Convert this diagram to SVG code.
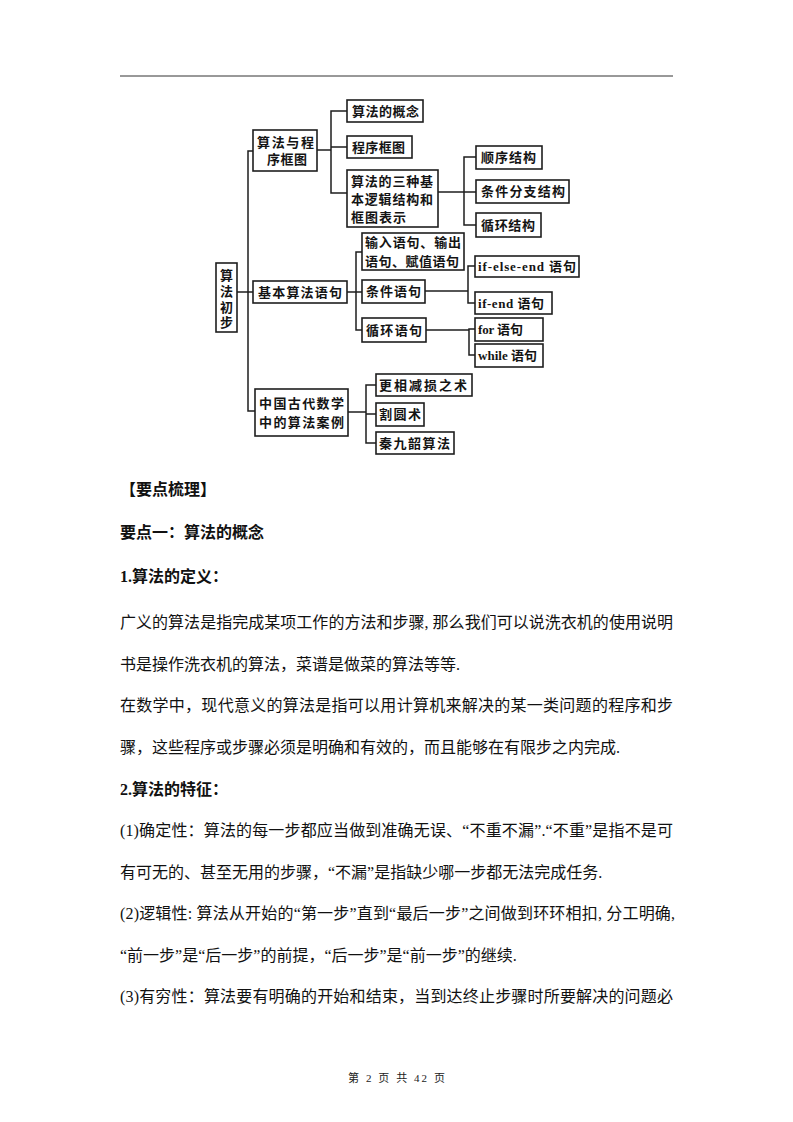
<svg xmlns="http://www.w3.org/2000/svg" width="793" height="1122" viewBox="0 0 793 1122">
<style>
.box{fill:#fff;stroke:#1e1e1e;stroke-width:1.6}
.ln{fill:none;stroke:#1e1e1e;stroke-width:1.5}
.lbl{font-family:"Liberation Serif","Noto Sans CJK SC",serif;font-size:13px;font-weight:bold;fill:#141414;dominant-baseline:central}
.body{font-family:"Liberation Serif","Noto Sans CJK SC",serif;font-size:16px;fill:#111}
.hd{font-family:"Liberation Serif","Noto Sans CJK SC",serif;font-size:16px;font-weight:bold;fill:#111}
.ft{font-family:"Liberation Serif","Noto Sans CJK SC",serif;font-size:11px;fill:#222}
</style>
<rect width="793" height="1122" fill="#fff"/>
<line x1="120" y1="76" x2="673" y2="76" stroke="#333" stroke-width="1"/>

<g id="connectors">
<path class="ln" d="M237 292 H253"/>
<path class="ln" d="M253 151 H248 V411 H255"/>
<path class="ln" d="M317 150 H331"/>
<path class="ln" d="M347 111 H331 V193 H347 M331 147 H347"/>
<path class="ln" d="M438 192 H464"/>
<path class="ln" d="M476 157 H464 V225 H476 M464 192 H476"/>
<path class="ln" d="M347 292 H362"/>
<path class="ln" d="M362 252 H356 V330 H362"/>
<path class="ln" d="M425 291 H468"/>
<path class="ln" d="M475 266 H468 V303 H475"/>
<path class="ln" d="M426 330 H469"/>
<path class="ln" d="M475 329 H469 V355 H475"/>
<path class="ln" d="M348 412 H366"/>
<path class="ln" d="M376 385 H366 V443 H376 M366 414 H376"/>
</g>

<g id="root">
<rect class="box" x="216" y="263" width="21" height="69"/>
<text class="lbl" x="226.5" y="275" text-anchor="middle">算</text>
<text class="lbl" x="226.5" y="291" text-anchor="middle">法</text>
<text class="lbl" x="226.5" y="307" text-anchor="middle">初</text>
<text class="lbl" x="226.5" y="322" text-anchor="middle">步</text>
</g>
<g id="n-suanfa-chengxu">
<rect class="box" x="253" y="130" width="64" height="41"/>
<text class="lbl" x="257" y="142" textLength="57" lengthAdjust="spacing">算法与程</text>
<text class="lbl" x="267" y="159" textLength="40" lengthAdjust="spacing">序框图</text>
</g>
<g id="n-gainian">
<rect class="box" x="347" y="100" width="76" height="22"/>
<text class="lbl" x="352" y="111" textLength="67" lengthAdjust="spacing">算法的概念</text>
</g>
<g id="n-kuangtu">
<rect class="box" x="347" y="136" width="65" height="22"/>
<text class="lbl" x="352" y="147" textLength="53" lengthAdjust="spacing">程序框图</text>
</g>
<g id="n-sanzhong">
<rect class="box" x="347" y="170" width="91" height="57"/>
<text class="lbl" x="351" y="181" textLength="82" lengthAdjust="spacing">算法的三种基</text>
<text class="lbl" x="351" y="199" textLength="82" lengthAdjust="spacing">本逻辑结构和</text>
<text class="lbl" x="351" y="217" textLength="55" lengthAdjust="spacing">框图表示</text>
</g>
<g id="n-shunxu">
<rect class="box" x="476" y="146" width="66" height="23"/>
<text class="lbl" x="481" y="157" textLength="55" lengthAdjust="spacing">顺序结构</text>
</g>
<g id="n-tiaojianfenzhi">
<rect class="box" x="476" y="180" width="93" height="23"/>
<text class="lbl" x="481" y="191" textLength="84" lengthAdjust="spacing">条件分支结构</text>
</g>
<g id="n-xunhuanjiegou">
<rect class="box" x="476" y="213" width="65" height="24"/>
<text class="lbl" x="481" y="225" textLength="54" lengthAdjust="spacing">循环结构</text>
</g>
<g id="n-jibenyuju">
<rect class="box" x="253" y="281" width="94" height="22"/>
<text class="lbl" x="258" y="292" textLength="84" lengthAdjust="spacing">基本算法语句</text>
</g>
<g id="n-shuru">
<rect class="box" x="362" y="233" width="102" height="37"/>
<text class="lbl" x="365" y="242" textLength="96" lengthAdjust="spacing">输入语句、输出</text>
<text class="lbl" x="365" y="261" textLength="94" lengthAdjust="spacing">语句、赋值语句</text>
</g>
<g id="n-tiaojianyuju">
<rect class="box" x="362" y="280" width="63" height="23"/>
<text class="lbl" x="366" y="291" textLength="55" lengthAdjust="spacing">条件语句</text>
</g>
<g id="n-xunhuanyuju">
<rect class="box" x="362" y="318" width="64" height="24"/>
<text class="lbl" x="366" y="330" textLength="56" lengthAdjust="spacing">循环语句</text>
</g>
<g id="n-ifelseend">
<rect class="box" x="475" y="256" width="104" height="21"/>
<text class="lbl" x="478" y="266" textLength="98" lengthAdjust="spacing">if-else-end 语句</text>
</g>
<g id="n-ifend">
<rect class="box" x="475" y="292" width="77" height="22"/>
<text class="lbl" x="478" y="303" textLength="66" lengthAdjust="spacing">if-end 语句</text>
</g>
<g id="n-for">
<rect class="box" x="475" y="318" width="68" height="23"/>
<text class="lbl" x="478" y="329" textLength="45" lengthAdjust="spacing">for 语句</text>
</g>
<g id="n-while">
<rect class="box" x="475" y="344" width="68" height="23"/>
<text class="lbl" x="478" y="355" textLength="59" lengthAdjust="spacing">while 语句</text>
</g>
<g id="n-zhongguo">
<rect class="box" x="255" y="389" width="93" height="47"/>
<text class="lbl" x="259" y="403" textLength="85" lengthAdjust="spacing">中国古代数学</text>
<text class="lbl" x="259" y="422" textLength="85" lengthAdjust="spacing">中的算法案例</text>
</g>
<g id="n-gengxiang">
<rect class="box" x="376" y="374" width="96" height="22"/>
<text class="lbl" x="379" y="385" textLength="88" lengthAdjust="spacing">更相减损之术</text>
</g>
<g id="n-geyuan">
<rect class="box" x="376" y="403" width="48" height="23"/>
<text class="lbl" x="379" y="414" textLength="42" lengthAdjust="spacing">割圆术</text>
</g>
<g id="n-qinjiushao">
<rect class="box" x="376" y="432" width="78" height="22"/>
<text class="lbl" x="379" y="443" textLength="71" lengthAdjust="spacing">秦九韶算法</text>
</g>

<g id="body">
<text class="hd" x="120" y="495">【要点梳理】</text>
<text class="hd" x="120" y="538">要点一：算法的概念</text>
<text class="hd" x="120" y="582">1.算法的定义：</text>
<text class="body" x="120" y="628" textLength="553" lengthAdjust="spacing">广义的算法是指完成某项工作的方法和步骤, 那么我们可以说洗衣机的使用说明</text>
<text class="body" x="120" y="670">书是操作洗衣机的算法，菜谱是做菜的算法等等.</text>
<text class="body" x="120" y="711" textLength="553" lengthAdjust="spacing">在数学中，现代意义的算法是指可以用计算机来解决的某一类问题的程序和步</text>
<text class="body" x="120" y="753">骤，这些程序或步骤必须是明确和有效的，而且能够在有限步之内完成.</text>
<text class="hd" x="120" y="795">2.算法的特征：</text>
<text class="body" x="120" y="836" textLength="553" lengthAdjust="spacing">(1)确定性：算法的每一步都应当做到准确无误、“不重不漏”.“不重”是指不是可</text>
<text class="body" x="120" y="878">有可无的、甚至无用的步骤，“不漏”是指缺少哪一步都无法完成任务.</text>
<text class="body" x="120" y="919" textLength="555" lengthAdjust="spacing">(2)逻辑性: 算法从开始的“第一步”直到“最后一步”之间做到环环相扣, 分工明确,</text>
<text class="body" x="120" y="961">“前一步”是“后一步”的前提，“后一步”是“前一步”的继续.</text>
<text class="body" x="120" y="1002" textLength="553" lengthAdjust="spacing">(3)有穷性：算法要有明确的开始和结束，当到达终止步骤时所要解决的问题必</text>
<text class="ft" x="348" y="1082" textLength="97" lengthAdjust="spacing">第 2 页 共 42 页</text>
</g>
</svg>
